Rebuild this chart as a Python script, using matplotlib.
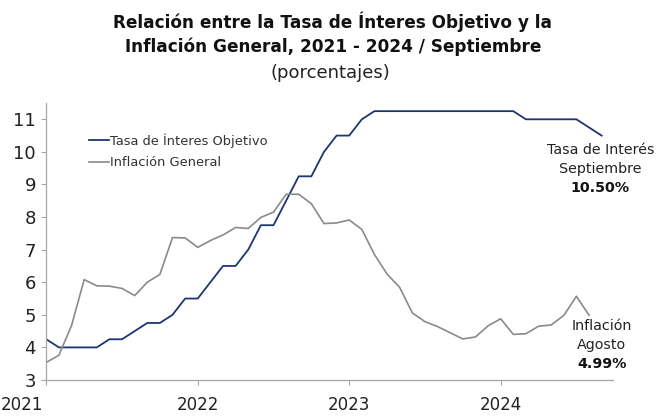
import numpy as np
import matplotlib
matplotlib.use("Agg")
import matplotlib.pyplot as plt
import matplotlib.transforms as mtransforms

# monthly data, Jan 2021 - Sep 2024
tasa_objetivo = [4.25, 4.00, 4.00, 4.00, 4.00, 4.25, 4.25, 4.50, 4.75, 4.75, 5.00, 5.50,
                 5.50, 6.00, 6.50, 6.50, 7.00, 7.75, 7.75, 8.50, 9.25, 9.25, 10.00, 10.50,
                 10.50, 11.00, 11.25, 11.25, 11.25, 11.25, 11.25, 11.25, 11.25, 11.25, 11.25, 11.25,
                 11.25, 11.25, 11.00, 11.00, 11.00, 11.00, 11.00, 10.75, 10.50]
inflacion = [3.54, 3.76, 4.67, 6.08, 5.89, 5.88, 5.81, 5.59, 6.00, 6.24, 7.37, 7.36,
             7.07, 7.28, 7.45, 7.68, 7.65, 7.99, 8.15, 8.70, 8.70, 8.41, 7.80, 7.82,
             7.91, 7.62, 6.85, 6.25, 5.84, 5.06, 4.79, 4.64, 4.45, 4.26, 4.32, 4.66,
             4.88, 4.40, 4.42, 4.65, 4.69, 4.98, 5.57, 4.99]
years = ["2021", "2022", "2023", "2024"]
yticks = [3, 4, 5, 6, 7, 8, 9, 10, 11]

BLUE = "#1c3670"
GRAY = "#8a8a8a"
SPINE = "#a6a6a6"

fig = plt.figure(figsize=(6.58, 4.16), dpi=100)
ax = fig.add_axes([46.3 / 658, 1 - 380 / 416, (613 - 46.3) / 658, (380 - 103) / 416])

ax.plot(np.arange(len(tasa_objetivo)), tasa_objetivo, color=BLUE, lw=1.3,
        label="Tasa de Ínteres Objetivo")
ax.plot(np.arange(len(inflacion)), inflacion, color=GRAY, lw=1.2,
        label="Inflación General")

ax.set_xlim(0, 44.9)
ax.set_ylim(3, 11.5)
ax.set_xticks([12 * i for i in range(len(years))])
ax.set_xticklabels(years)
ax.set_yticks(yticks)
ax.tick_params(axis="both", colors=SPINE, labelcolor="#222222", length=3.5, width=0.8)
ax.tick_params(axis="y", pad=4, labelsize=13)
ax.tick_params(axis="x", pad=8, labelsize=12)
for s in ["top", "right"]:
    ax.spines[s].set_visible(False)
for s in ["left", "bottom"]:
    ax.spines[s].set_color(SPINE)
    ax.spines[s].set_linewidth(0.9)

# first year label sits flush with the left edge of the image
first = ax.get_xticklabels()[0]
first.set_horizontalalignment("left")
first.set_transform(first.get_transform() +
                    mtransforms.ScaledTranslation(-46 / 100, 0, fig.dpi_scale_trans))

leg = ax.legend(loc="upper left", bbox_to_anchor=(0.067, 0.91), frameon=False,
                fontsize=9.4, handlelength=1.5, handletextpad=0.1,
                labelspacing=0.65, borderaxespad=0)
for t in leg.get_texts():
    t.set_color("#333333")

# end labels
fs = 10.3
ax.text(43.9, 10.06, "Tasa de Interés", ha="center", va="center", fontsize=fs, color="#222222")
ax.text(43.9, 9.48, "Septiembre", ha="center", va="center", fontsize=fs, color="#222222")
ax.text(43.9, 8.90, "10.50%", ha="center", va="center", fontsize=fs, fontweight="bold", color="#111111")
ax.text(44.0, 4.65, "Inflación", ha="center", va="center", fontsize=fs, color="#222222")
ax.text(44.0, 4.07, "Agosto", ha="center", va="center", fontsize=fs, color="#222222")
ax.text(44.0, 3.49, "4.99%", ha="center", va="center", fontsize=fs, fontweight="bold", color="#111111")

fig.text(333 / 658, 1 - 22 / 416, "Relación entre la Tasa de Ínteres Objetivo y la",
         ha="center", va="center", fontsize=12.2, fontweight="bold", color="#111111")
fig.text(333 / 658, 1 - 47 / 416, "Inflación General, 2021 - 2024 / Septiembre",
         ha="center", va="center", fontsize=12.2, fontweight="bold", color="#111111")
fig.text(330 / 658, 1 - 73 / 416, "(porcentajes)",
         ha="center", va="center", fontsize=13, color="#222222")

fig.savefig("out.png", dpi=100)
